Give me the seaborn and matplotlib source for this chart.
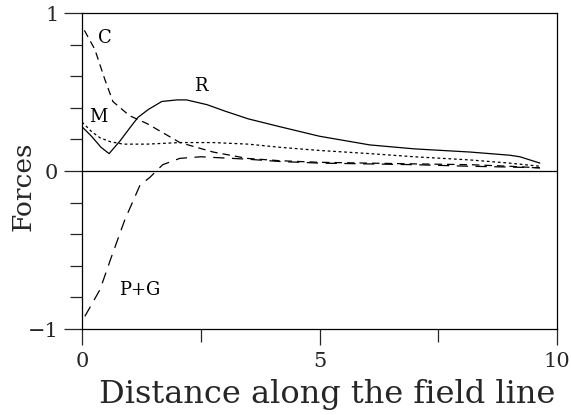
import numpy as np
import pandas as pd
import matplotlib
matplotlib.use("Agg")
import matplotlib.pyplot as plt
import seaborn as sns

# Data
r_x = [0.0, 0.2, 0.4, 0.57, 0.8, 1.0, 1.18, 1.4, 1.68, 2.0, 2.2, 2.63, 3.0, 3.5, 4.17, 5.0, 6.06, 7.0, 8.17, 9.0, 9.22, 9.64]
r_y = [0.28, 0.22, 0.15, 0.11, 0.19, 0.27, 0.34, 0.39, 0.44, 0.45, 0.45, 0.42, 0.38, 0.33, 0.28, 0.22, 0.165, 0.14, 0.12, 0.1, 0.09, 0.05]

m_x = [0.0, 0.2, 0.38, 0.6, 0.87, 1.37, 2.06, 2.76, 3.5, 4.17, 5.0, 6.06, 7.0, 8.17, 9.0, 9.64]
m_y = [0.31, 0.25, 0.21, 0.185, 0.17, 0.17, 0.18, 0.18, 0.17, 0.15, 0.13, 0.11, 0.09, 0.07, 0.05, 0.03]

c_x = [0.05, 0.27, 0.48, 0.65, 1.0, 1.37, 2.06, 2.76, 3.47, 4.17, 5.0, 6.0, 7.0, 8.17, 9.0, 9.64]
c_y = [0.89, 0.77, 0.58, 0.44, 0.35, 0.30, 0.18, 0.12, 0.08, 0.065, 0.055, 0.05, 0.045, 0.04, 0.03, 0.02]

pg_x = [0.06, 0.38, 0.6, 0.9, 1.22, 1.43, 1.7, 2.06, 2.5, 3.47, 4.17, 5.0, 6.0, 7.0, 8.17, 9.0, 9.64]
pg_y = [-0.92, -0.75, -0.56, -0.31, -0.09, -0.04, 0.04, 0.08, 0.09, 0.075, 0.06, 0.05, 0.045, 0.04, 0.03, 0.025, 0.02]

labels = ["R", "M", "C", "P+G"]
label_pos = [(2.5, 0.54), (0.35, 0.34), (0.48, 0.84), (1.22, -0.75)]

x_ticks = [0, 5, 10]
y_ticks = [-1, 0, 1]

sns.set_style("ticks")
plt.rcParams["font.family"] = ["DejaVu Serif"]

fig = plt.figure(figsize=(5.71, 4.15), dpi=100)
ax = fig.add_axes([82/571, 1-329/415, (557-82)/571, (329-13)/415])

series = [
    (r_x, r_y, "R", None),
    (m_x, m_y, "M", (0, (2.2, 2.2))),
    (c_x, c_y, "C", (0, (6, 4))),
    (pg_x, pg_y, "P+G", (0, (9, 6))),
]
for xs, ys, name, ls in series:
    df = pd.DataFrame({"x": xs, "y": ys})
    kw = {}
    if ls is not None:
        kw["linestyle"] = ls
    sns.lineplot(data=df, x="x", y="y", ax=ax, color="black", linewidth=0.9,
                 estimator=None, sort=False, **kw)

ax.axhline(0, color="black", linewidth=0.9)

for name, (tx, ty) in zip(labels, label_pos):
    ax.text(tx, ty, name, fontsize=13, ha="center", va="center", color="black")

ax.set_xlim(0, 10)
ax.set_ylim(-1, 1)
ax.set_xticks(x_ticks)
ax.set_xticklabels([str(v) for v in x_ticks])
ax.set_yticks(y_ticks)
ax.set_yticklabels(["\u22121", "0", "1"])
ax.set_xticks([2.5, 7.5], minor=True)
ax.set_yticks([-0.8, -0.6, -0.4, -0.2, 0.2, 0.4, 0.6, 0.8], minor=True)

ax.tick_params(axis="y", which="major", length=13, width=0.9, pad=4, labelsize=15, direction="out")
ax.tick_params(axis="y", which="minor", length=8.6, width=0.9, direction="out")
ax.tick_params(axis="x", which="major", length=11.5, width=0.9, pad=5, labelsize=15, direction="out")
ax.tick_params(axis="x", which="minor", length=9.4, width=0.9, direction="out")

for s in ax.spines.values():
    s.set_linewidth(0.9)
    s.set_color("black")
    s.set_visible(True)

ax.set_xlabel("")
ax.set_ylabel("")
fig.text(327/571, 1-394/415, "Distance along the field line", fontsize=23,
         ha="center", va="center")
fig.text(23/571, 1-186/415, "Forces", fontsize=19, rotation=90,
         ha="center", va="center")

fig.savefig("out.png", dpi=100)
